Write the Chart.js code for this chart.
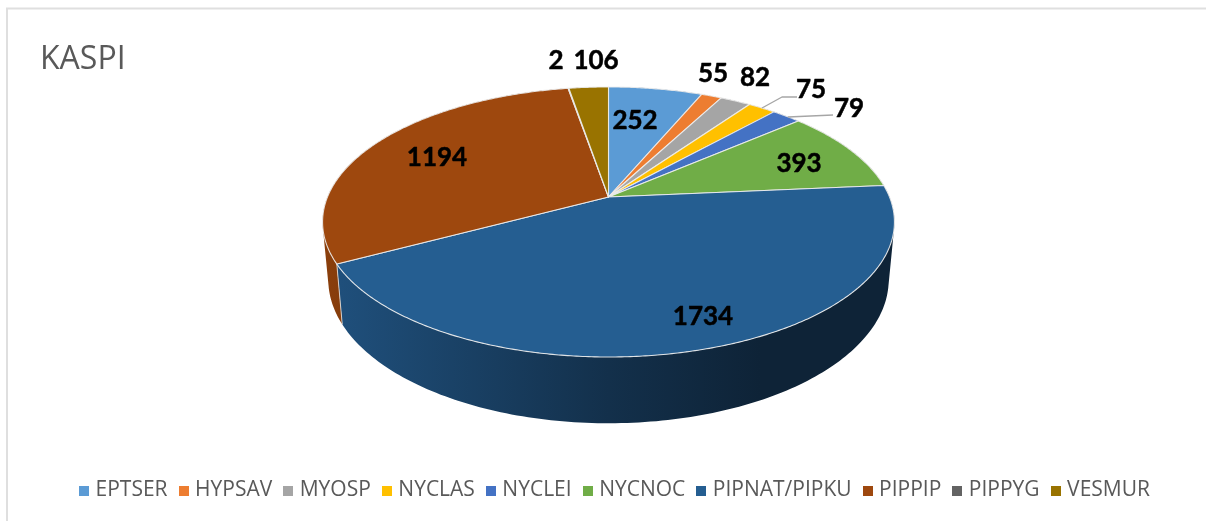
<!DOCTYPE html>
<html>
<head>
<meta charset="utf-8">
<style>html,body{margin:0;padding:0;background:#fff}canvas{display:block}</style>
<script src="https://cdn.jsdelivr.net/npm/chart.js@4"></script>
</head>
<body>
<canvas id="c" width="1206" height="521"></canvas>
<script>
const categories = ['EPTSER','HYPSAV','MYOSP','NYCLAS','NYCLEI','NYCNOC','PIPNAT/PIPKU','PIPPIP','PIPPYG','VESMUR'];
const counts = [252,55,82,75,79,393,1734,1194,2,106];
const colors = ['#5B9BD5','#ED7D31','#A5A5A5','#FFC000','#4472C4','#70AD47','#255E91','#9E480E','#636363','#997300'];
const labelCenters = [[635,121],[713,74],[755,78],[811,90],[849,109],[799,164],[703,317],[437,158],[556,61],[596,61]];
const leaderLines = {3:[[762,108],[782,97],[797,97]],4:[[788,117],[833,115]]};

// perspective view of the pie disc
const view = {cx:608.5, ay:197, R:281, S:130.4, k:-0.185, halfWidth:286};
const wallShade = [[-1,0.88],[-0.94,0.85],[0,0.52],[0.53,0.38],[1,0.38]];
function project(t, low){
  const x=Math.cos(t), y=Math.sin(t), w=1+view.k*y;
  let X=view.R*x/w, Y=view.ay+view.S*y/w;
  if(low){ X*=0.98; Y=253+1.064*(Y-view.ay); }
  return [view.cx+X, Y];
}
function shaded(hex,f){
  const n=parseInt(hex.slice(1),16);
  return `rgb(${((n>>16&255)*f)|0},${((n>>8&255)*f)|0},${((n&255)*f)|0})`;
}
function area(p){
  let s=0;
  p.forEach((q,j)=>{const r=p[(j+1)%p.length];s+=q[0]*r[1]-r[0]*q[1];});
  return s;
}
const perspectivePie = {
  id:'perspectivePie',
  beforeDraw(chart){
    const ctx=chart.ctx;
    ctx.save();
    ctx.strokeStyle='#dfdfdf';ctx.lineWidth=2;
    ctx.beginPath();ctx.moveTo(7,521);ctx.lineTo(7,8.5);ctx.lineTo(1206,8.5);ctx.stroke();
    ctx.restore();
  },
  beforeDatasetsDraw(chart){
    const ctx=chart.ctx, arcs=chart.getDatasetMeta(0).data, step=Math.PI/180;
    ctx.save();
    // side wall: one path per slice so no seams show between its small quads
    arcs.forEach((arc,i)=>{
      const {startAngle:a0,endAngle:a1}=arc.getProps(['startAngle','endAngle'],true);
      const g=ctx.createLinearGradient(view.cx-view.halfWidth,0,view.cx+view.halfWidth,0);
      wallShade.forEach(s=>g.addColorStop((s[0]+1)/2,shaded(colors[i],s[1])));
      ctx.fillStyle=g;
      ctx.beginPath();
      for(let t=a0;t<a1;t+=step){
        const t2=Math.min(t+step,a1);
        const p=[project(t),project(t2),project(t2,true),project(t,true)];
        if(area(p)<0)p.reverse();
        p.forEach((q,j)=>j?ctx.lineTo(q[0],q[1]):ctx.moveTo(q[0],q[1]));
        ctx.closePath();
      }
      ctx.fill('nonzero');
    });
    arcs.forEach(arc=>{
      const a0=arc.getProps(['startAngle'],true).startAngle;
      const p=project(a0),q=project(a0,true);
      ctx.strokeStyle='rgba(235,230,225,0.8)';ctx.lineWidth=1;
      ctx.beginPath();ctx.moveTo(p[0],p[1]);ctx.lineTo(q[0],q[1]);ctx.stroke();
    });
    // top face
    arcs.forEach((arc,i)=>{
      const {startAngle:a0,endAngle:a1}=arc.getProps(['startAngle','endAngle'],true);
      ctx.beginPath();ctx.moveTo(view.cx,view.ay);
      for(let t=a0;t<a1;t+=step/2){const q=project(t);ctx.lineTo(q[0],q[1]);}
      const e=project(a1);ctx.lineTo(e[0],e[1]);ctx.closePath();
      ctx.fillStyle=colors[i];ctx.fill();
      ctx.strokeStyle='rgba(238,238,238,0.9)';ctx.lineWidth=1.1;ctx.lineJoin='round';ctx.stroke();
    });
    // leader lines
    ctx.strokeStyle='#a6a6a6';ctx.lineWidth=1.4;
    Object.values(leaderLines).forEach(l=>{
      ctx.beginPath();l.forEach((q,j)=>j?ctx.lineTo(q[0],q[1]):ctx.moveTo(q[0],q[1]));ctx.stroke();
    });
    // value labels
    ctx.font='bold 26px Lato';ctx.fillStyle='#000';ctx.strokeStyle='#000';ctx.lineWidth=0.5;
    ctx.textAlign='center';ctx.textBaseline='middle';
    counts.forEach((v,i)=>{
      ctx.fillText(String(v),labelCenters[i][0],labelCenters[i][1]);
      ctx.strokeText(String(v),labelCenters[i][0],labelCenters[i][1]);
    });
    ctx.restore();
    return false;
  }
};
function swatch(color){
  const s=document.createElement('canvas');s.width=10;s.height=10;
  const g=s.getContext('2d');g.fillStyle=color;g.fillRect(0,0,10,10);
  return s;
}
new Chart(document.getElementById('c'),{
  type:'pie',
  data:{labels:categories,datasets:[{data:counts,backgroundColor:colors,borderWidth:0}]},
  options:{
    responsive:false,animation:false,
    layout:{padding:{left:40,right:13,top:0,bottom:10}},
    plugins:{
      tooltip:{enabled:false},
      title:{display:true,text:'KASPI',align:'start',color:'#595959',
        font:{family:'Open Sans',size:32,weight:'normal',lineHeight:1.2},padding:{top:41,bottom:0}},
      legend:{position:'bottom',labels:{
        usePointStyle:true,boxWidth:2,boxHeight:2,padding:15,color:'#595959',
        font:{family:'Open Sans',size:21,weight:'normal'},
        generateLabels(chart){
          return categories.map((t,i)=>({text:t,fillStyle:colors[i],strokeStyle:colors[i],lineWidth:0,
            pointStyle:swatch(colors[i]),hidden:false,index:i,fontColor:'#595959'}));
        }
      }}
    }
  },
  plugins:[perspectivePie]
});
</script>
</body>
</html>
